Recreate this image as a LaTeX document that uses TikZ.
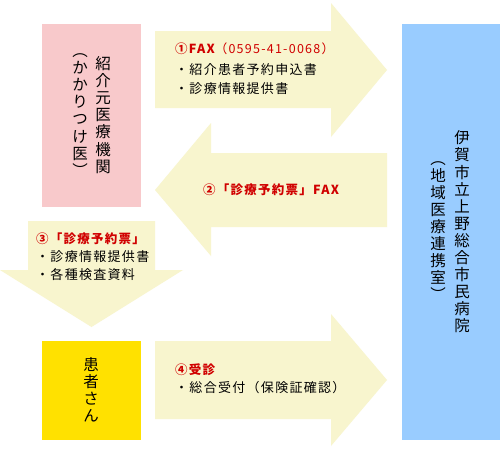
\documentclass[tikz,border=0pt]{standalone}
\usepackage{fontspec}
\newfontfamily\jp{Noto Sans CJK JP}
\definecolor{arrowfill}{HTML}{F8F5CE}
\definecolor{pinkbox}{HTML}{F8C9CB}
\definecolor{bluebox}{HTML}{99CCFF}
\definecolor{yellowbox}{HTML}{FFE100}
\definecolor{redtxt}{HTML}{D00000}
\tikzset{
  bigarrow/.style={fill=arrowfill, draw=none},
  vtext/.style={align=center, inner sep=0pt, font=\jp\fontsize{15.5}{17.1}\selectfont},
  htext/.style={anchor=west, inner sep=0pt, font=\jp\fontsize{13}{15}\selectfont\addfontfeature{LetterSpace=10}},
  rtext/.style={htext, text=redtxt, font=\jp\bfseries\fontsize{12.5}{15}\selectfont\addfontfeature{LetterSpace=10}},
}
\begin{document}
\begin{tikzpicture}[x=1pt,y=-1pt]
\useasboundingbox (0,0) rectangle (500,450);
\fill[white] (0,0) rectangle (500,450);
% boxes
\fill[pinkbox] (42,24) rectangle (141,207);
\fill[bluebox] (402,24) rectangle (500,440);
\fill[yellowbox] (42,341) rectangle (141,440);
% arrows
\path[bigarrow] (155,31) -- (331,31) -- (331,3) -- (387,70) -- (331,137) -- (331,108) -- (155,108) -- cycle;
\path[bigarrow] (387,153) -- (211,153) -- (211,123) -- (155,190) -- (211,256) -- (211,227) -- (387,227) -- cycle;
\path[bigarrow] (28,221) -- (155,221) -- (155,270) -- (183,270) -- (91.5,327) -- (0,270) -- (28,270) -- cycle;
\path[bigarrow] (155,341) -- (331,341) -- (331,314) -- (387,380) -- (331,446) -- (331,419) -- (155,419) -- cycle;
% box texts
\node[vtext] (src1) at (103,115) {紹\\介\\元\\医\\療\\機\\関};
\node[vtext] (src2) at (80,115) {︵\\か\\か\\り\\つ\\け\\医\\︶};
\node[vtext] (hosp1) at (462,232) {伊\\賀\\市\\立\\上\\野\\総\\合\\市\\民\\病\\院};
\node[vtext] (hosp2) at (438,231) {︵\\地\\域\\医\\療\\連\\携\\室\\︶};
\node[vtext] (pat) at (91,390) {患\\者\\さ\\ん};
% arrow 1 texts
\node[rtext] (a1t) at (175,49) {①FAX\mdseries（0595-41-0068）};
\node[htext] (a1l1) at (175,70) {・紹介患者予約申込書};
\node[htext] (a1l2) at (175,89) {・診療情報提供書};
% arrow 2 text
\node[rtext] (a2t) at (203,190) {②「診療予約票」FAX};
% arrow 3 texts
\node[rtext] (a3t) at (36,239) {③「診療予約票」};
\node[htext] (a3l1) at (36,257) {・診療情報提供書};
\node[htext] (a3l2) at (36,275) {・各種検査資料};
% arrow 4 texts
\node[rtext] (a4t) at (175,370) {④受診};
\node[htext] (a4l1) at (175,388) {・総合受付（保険証確認）};
\end{tikzpicture}
\end{document}
